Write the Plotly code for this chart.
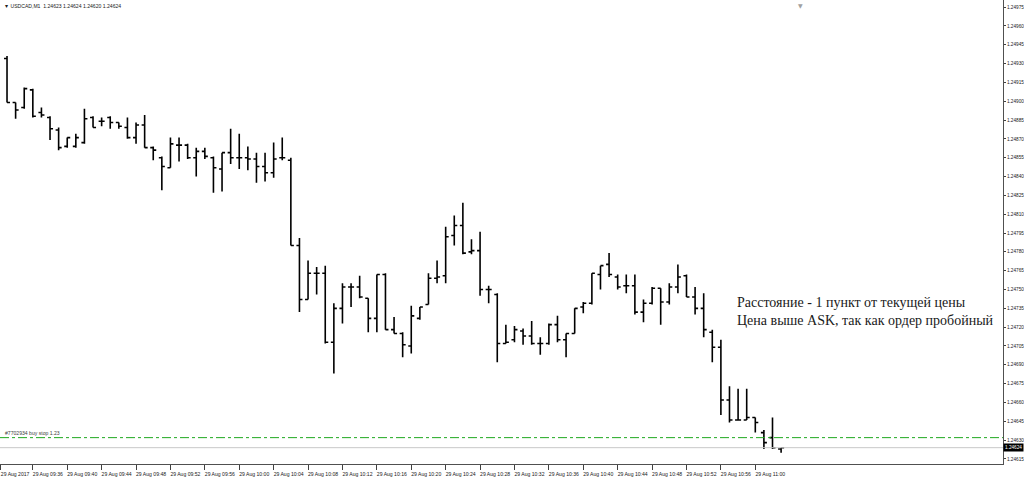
import pandas as pd
import plotly.graph_objects as go

# USDCAD M1 bars, 29 Aug 2017 09:33 .. 11:03
start_time = "2017-08-29 09:33"
opens = [1.24934,1.24899,1.24895,1.24909,1.24891,1.24887,1.24877,1.24864,1.24864,1.24867,
         1.24887,1.24884,1.24887,1.24883,1.24879,1.24871,1.24881,1.24863,1.24855,1.24847,
         1.24865,1.24865,1.24855,1.24860,1.24855,1.24846,1.24859,1.24855,1.24855,1.24854,
         1.24848,1.24843,1.24855,1.24853,1.24785,1.24742,1.24763,1.24763,1.24708,1.24735,
         1.24752,1.24752,1.24743,1.24727,1.24762,1.24718,1.24715,1.24705,1.24727,1.24738,
         1.24759,1.24761,1.24793,1.24801,1.24780,1.24781,1.24750,1.24746,1.24707,1.24710,
         1.24717,1.24713,1.24707,1.24707,1.24722,1.24710,1.24715,1.24736,1.24739,1.24762,
         1.24770,1.24760,1.24753,1.24753,1.24732,1.24739,1.24751,1.24740,1.24752,1.24761,
         1.24744,1.24735,1.24716,1.24704,1.24662,1.24646,1.24646,1.24648,1.24636,1.24632,
         1.24623]
highs = [1.24936,1.24899,1.24911,1.24910,1.24895,1.24888,1.24879,1.24871,1.24874,1.24894,
         1.24888,1.24887,1.24888,1.24883,1.24887,1.24883,1.24889,1.24864,1.24856,1.24871,
         1.24871,1.24866,1.24863,1.24863,1.24856,1.24859,1.24878,1.24874,1.24864,1.24859,
         1.24859,1.24867,1.24871,1.24855,1.24791,1.24773,1.24768,1.24769,1.24739,1.24755,
         1.24755,1.24761,1.24743,1.24762,1.24763,1.24728,1.24716,1.24737,1.24736,1.24763,
         1.24773,1.24800,1.24809,1.24819,1.24790,1.24796,1.24753,1.24747,1.24722,1.24721,
         1.24719,1.24725,1.24712,1.24723,1.24729,1.24715,1.24735,1.24740,1.24763,1.24769,
         1.24779,1.24762,1.24762,1.24762,1.24742,1.24752,1.24751,1.24755,1.24770,1.24762,
         1.24752,1.24747,1.24718,1.24710,1.24673,1.24671,1.24671,1.24648,1.24638,1.24648,
         1.24624]
lows = [1.24899,1.24886,1.24894,1.24887,1.24887,1.24869,1.24861,1.24863,1.24863,1.24866,
        1.24879,1.24880,1.24878,1.24878,1.24870,1.24866,1.24863,1.24853,1.24829,1.24847,
        1.24852,1.24854,1.24840,1.24854,1.24827,1.24828,1.24850,1.24846,1.24845,1.24835,
        1.24836,1.24839,1.24853,1.24785,1.24732,1.24742,1.24746,1.24707,1.24683,1.24723,
        1.24736,1.24743,1.24716,1.24716,1.24718,1.24715,1.24696,1.24699,1.24726,1.24738,
        1.24755,1.24755,1.24785,1.24778,1.24778,1.24745,1.24739,1.24692,1.24707,1.24708,
        1.24706,1.24706,1.24698,1.24706,1.24708,1.24696,1.24715,1.24731,1.24738,1.24750,
        1.24760,1.24750,1.24747,1.24730,1.24724,1.24738,1.24722,1.24738,1.24747,1.24744,
        1.24730,1.24712,1.24692,1.24650,1.24644,1.24646,1.24646,1.24636,1.24623,1.24623,
        1.24620]
closes = [1.24899,1.24893,1.24910,1.24888,1.24889,1.24878,1.24863,1.24871,1.24871,1.24886,
          1.24879,1.24884,1.24883,1.24880,1.24871,1.24881,1.24863,1.24861,1.24848,1.24866,
          1.24865,1.24855,1.24860,1.24856,1.24847,1.24859,1.24855,1.24855,1.24854,1.24848,
          1.24843,1.24854,1.24855,1.24785,1.24742,1.24763,1.24763,1.24708,1.24735,1.24752,
          1.24752,1.24744,1.24727,1.24762,1.24718,1.24715,1.24706,1.24729,1.24736,1.24759,
          1.24760,1.24792,1.24801,1.24779,1.24781,1.24750,1.24750,1.24707,1.24708,1.24718,
          1.24713,1.24707,1.24707,1.24722,1.24710,1.24715,1.24735,1.24739,1.24763,1.24769,
          1.24762,1.24752,1.24753,1.24732,1.24739,1.24751,1.24740,1.24752,1.24760,1.24744,
          1.24735,1.24718,1.24704,1.24662,1.24646,1.24646,1.24648,1.24644,1.24628,1.24624,
          1.24624]

tick_times = ["09:32:12","09:36","09:40","09:44","09:48","09:52","09:56","10:00","10:04","10:08",
              "10:12","10:16","10:20","10:24","10:28","10:32","10:36","10:40","10:44","10:48",
              "10:52","10:56","11:00"]
tick_labels = ["29 Aug 2017"] + ["29 Aug " + t for t in tick_times[1:]]
price_ticks = [1.24615,1.24630,1.24645,1.24660,1.24675,1.24690,1.24705,1.24720,1.24735,1.24750,
               1.24765,1.24780,1.24795,1.24810,1.24825,1.24840,1.24855,1.24870,1.24885,1.24900,
               1.24915,1.24930,1.24945,1.24960,1.24975]
bid_price = 1.24624
order_price = 1.24632
title_text = "USDCAD,M1  1.24623 1.24624 1.24620 1.24624"
order_label = "#7702934 buy stop 1.23"
note_lines = ["Расстояние - 1 пункт от текущей цены",
              "Цена выше ASK, так как ордер пробойный"]

times = pd.date_range(start_time, periods=len(opens), freq="1min")
tick_vals = [pd.Timestamp("2017-08-29 " + t) for t in tick_times]

fig = go.Figure()
fig.add_trace(go.Ohlc(
    x=times, open=opens, high=highs, low=lows, close=closes,
    increasing=dict(line=dict(color="black", width=1.6)),
    decreasing=dict(line=dict(color="black", width=1.6)),
    tickwidth=0.35, showlegend=False, hoverinfo="skip"))

x0 = times[0] - pd.Timedelta(seconds=49)
x1 = times[0] + pd.Timedelta(seconds=int(115.8 * 60))

fig.add_shape(type="line", xref="paper", x0=0, x1=1, y0=bid_price, y1=bid_price,
              line=dict(color="#c8c8c8", width=1))
fig.add_shape(type="line", xref="paper", x0=0, x1=1, y0=order_price, y1=order_price,
              line=dict(color="#1fa81f", width=1, dash="dashdot"))

small = dict(family="Liberation Sans", size=5.1, color="#202020")
axis_font = dict(family="Liberation Sans", size=4.7, color="#202020")

fig.add_annotation(xref="paper", yref="y", x=0.003, y=order_price, yanchor="bottom", xanchor="left",
                   text=order_label, showarrow=False, font=dict(family="Liberation Sans", size=5.1, color="#404040"))
fig.add_annotation(xref="paper", yref="paper", x=0.002, y=0.997, xanchor="left", yanchor="top",
                   text="▼ " + title_text, showarrow=False, font=small)
fig.add_annotation(xref="paper", yref="paper", x=800/1003, y=1.0, xanchor="center", yanchor="top",
                   text="▼", showarrow=False, font=dict(family="DejaVu Sans", size=6, color="#a0a0a0"))
fig.add_annotation(xref="paper", yref="y", x=1.0, y=bid_price, xanchor="left", yanchor="middle",
                   text="1.24624", showarrow=False, bgcolor="black", borderpad=1,
                   font=dict(family="Liberation Sans", size=4.7, color="white"))
for k, line in enumerate(note_lines):
    fig.add_annotation(xref="paper", yref="paper", x=735/1003, y=(464 - 302 - 18 * k) / 464,
                       xanchor="left", yanchor="middle", text=line, showarrow=False,
                       font=dict(family="Liberation Serif", size=14, color="#1a1a1a"))

fig.update_layout(
    width=1024, height=478, paper_bgcolor="white", plot_bgcolor="white",
    margin=dict(l=0, r=21, t=0, b=14, autoexpand=False),
    xaxis=dict(range=[x0, x1], rangeslider=dict(visible=False), showgrid=False, zeroline=False,
               automargin=False, tickangle=0,
               tickmode="array", tickvals=tick_vals, ticktext=tick_labels,
               ticks="outside", ticklen=5, tickcolor="#404040", tickwidth=1,
               ticklabelshift=15, ticklabelstandoff=0,
               tickfont=small, showline=True, linecolor="#505050", linewidth=1, mirror=True),
    yaxis=dict(side="right", range=[1.246110, 1.249806], showgrid=False, zeroline=False,
               automargin=False, tickangle=0,
               tickmode="array", tickvals=price_ticks, tickformat=".5f",
               ticks="outside", ticklen=2, tickcolor="#404040", tickwidth=1,
               ticklabelstandoff=0,
               tickfont=axis_font, showline=True, linecolor="#505050", linewidth=1, mirror=True),
    hovermode=False,
)

fig.write_html("out.html", config={"displayModeBar": False},
               post_script="document.body.style.margin='0';document.body.style.overflow='hidden';")
